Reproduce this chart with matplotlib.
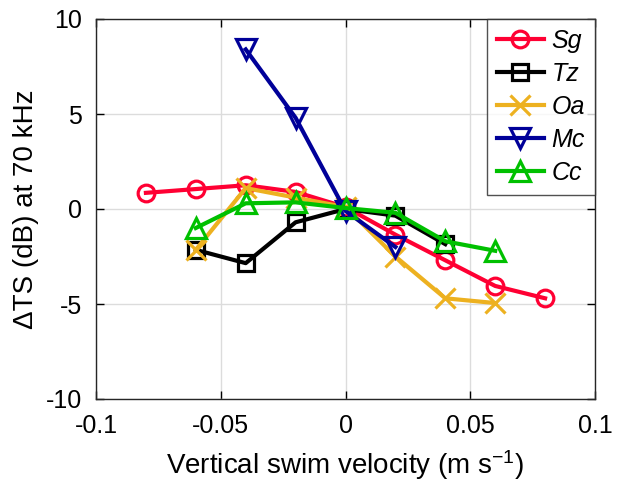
import matplotlib
matplotlib.use("Agg")
import matplotlib.pyplot as plt

plt.rcParams['font.family'] = ['Liberation Sans', 'DejaVu Sans']
plt.rcParams['mathtext.fontset'] = 'custom'
plt.rcParams['mathtext.rm'] = 'Liberation Sans'
plt.rcParams['mathtext.it'] = 'Liberation Sans:italic'

sg_x = [-0.08, -0.06, -0.04, -0.02, 0.0, 0.02, 0.04, 0.06, 0.08]
sg_y = [0.85, 1.05, 1.25, 0.9, 0.1, -1.35, -2.7, -4.05, -4.7]
tz_x = [-0.06, -0.04, -0.02, 0.0, 0.02, 0.04]
tz_y = [-2.15, -2.85, -0.7, 0.0, -0.35, -1.85]
oa_x = [-0.06, -0.04, -0.02, 0.0, 0.02, 0.04, 0.06]
oa_y = [-2.15, 1.1, 0.6, 0.1, -2.5, -4.7, -4.95]
mc_x = [-0.04, -0.02, 0.0, 0.02]
mc_y = [8.4, 4.8, -0.1, -2.0]
cc_x = [-0.06, -0.04, -0.02, 0.0, 0.02, 0.04, 0.06]
cc_y = [-1.0, 0.3, 0.35, 0.05, -0.2, -1.7, -2.2]

series = [
    ('Sg', sg_x, sg_y, '#FF0033', 'o', 12),
    ('Tz', tz_x, tz_y, '#000000', 's', 11.5),
    ('Oa', oa_x, oa_y, '#EDB120', 'x', 14),
    ('Mc', mc_x, mc_y, '#000099', 'v', 15),
    ('Cc', cc_x, cc_y, '#00C000', '^', 15),
]

fig = plt.figure(figsize=(6.22, 4.83), dpi=100)
ax = fig.add_axes([96/622, 1-399/483, (595-96)/622, (399-19)/483])

for name, x, y, c, m, ms in series:
    ax.plot(x, y, color=c, marker=m, lw=3, ms=ms, mew=2.3,
            mfc='none', label=name)

ax.set_xlim(-0.1, 0.1)
ax.set_ylim(-10, 10)
ax.set_xticks([-0.1, -0.05, 0, 0.05, 0.1])
ax.set_xticklabels(['-0.1', '-0.05', '0', '0.05', '0.1'])
ax.set_yticks([-10, -5, 0, 5, 10])
ax.set_yticklabels(['-10', '-5', '0', '5', '10'])
ax.grid(True, color='#DCDCDC', lw=1)
ax.set_axisbelow(True)
ax.tick_params(direction='in', length=6, width=1, labelsize=18, top=True, right=True)
ax.tick_params(axis='x', pad=11)
ax.tick_params(axis='y', pad=10)
for s in ax.spines.values():
    s.set_color('#262626')
    s.set_linewidth(1)

ax.set_xlabel('Vertical swim velocity (m s$^{-1}$)', fontsize=20, labelpad=7)
ax.set_ylabel('ΔTS (dB) at 70 kHz', fontsize=20, labelpad=5)

leg = ax.legend(loc='upper right', prop={'style': 'italic', 'size': 18},
                frameon=True, fancybox=False, edgecolor='#262626',
                borderaxespad=0, handlelength=1.9, labelspacing=0.36,
                borderpad=0.4, handletextpad=0.3)
leg.get_frame().set_linewidth(1)

fig.savefig('out.png', dpi=100)
